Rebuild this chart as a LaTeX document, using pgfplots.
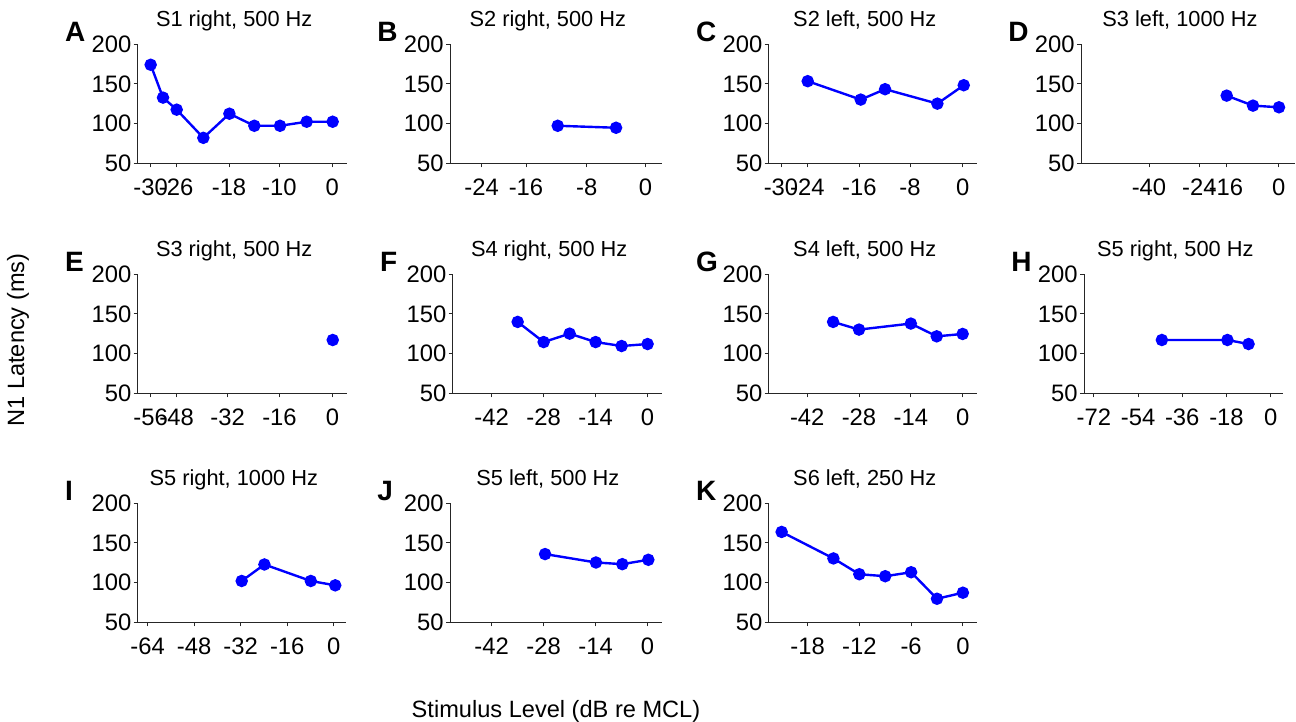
\documentclass[border=0pt]{standalone}
\usepackage{fontspec}
\setmainfont{Liberation Sans}
\usepackage{pgfplots}
\pgfplotsset{compat=1.18}

\definecolor{dotblue}{RGB}{0,0,255}

\pgfplotsset{
  panel/.style={
    scale only axis,
    height=59.5pt,
    anchor=south west,
    axis lines=left,
    axis line style={black!85, line width=0.5pt, -},
    ymin=50, ymax=200,
    ytick={50,100,150,200},
    yticklabels={50,100,150,200},
    tick align=outside,
    major tick length=2pt,
    tick style={black!85, line width=0.5pt},
    every tick label/.append style={inner sep=1pt, font=\fontsize{11.9}{13}\selectfont},
    xticklabel style={yshift=-4.5pt},
    title style={at={(0.5,1)}, anchor=base, yshift=3pt, xshift=-4pt,
                 font=\fontsize{10.9}{12}\selectfont},
    clip=false,
  },
  dat/.style={dotblue, line width=1.2pt, mark=*, mark size=2.5pt,
              mark options={solid, fill=dotblue, draw=dotblue}},
}
% panel letter
\newcommand{\plet}[1]{\node[anchor=west, inner sep=0pt, font=\fontsize{14}{15}\selectfont\bfseries]
  at (rel axis cs:0,1) [xshift=-36.5pt, yshift=6pt] {#1};}

% data (x positions read on each panel's own scale)
\pgfplotstableread{
x y
-30.00 174.2
-27.96 132.8
-25.70 117.6
-21.30 82.1
-17.00 112.5
-12.88 97.3
-8.64 97.3
-4.24 102.4
0.05 102.4
}\tA
\pgfplotstableread{
x y
-12.85 97.3
-4.30 94.8
}\tB
\pgfplotstableread{
x y
-25.59 153.5
-16.84 130.3
-12.82 143.4
-4.18 125.2
0.17 148.4
}\tC
\pgfplotstableread{
x y
-16.04 135.3
-7.92 122.7
0.10 120.6
}\tD
\pgfplotstableread{
x y
0.10 117.2
}\tE
\pgfplotstableread{
x y
-35 140.0
-28 114.6
-21 125.2
-14 114.6
-7 109.6
0 112.1
}\tF
\pgfplotstableread{
x y
-35 140.0
-28 130.3
-14 137.9
-7 121.8
0 124.8
}\tG
\pgfplotstableread{
x y
-44.3 117.2
-17.6 117.2
-9.0 112.1
}\tH
\pgfplotstableread{
x y
-31.65 102.1
-23.85 122.9
-7.90 102.1
0.50 96.6
}\tI
\pgfplotstableread{
x y
-27.6 136.0
-13.9 125.4
-6.8 123.3
0.2 128.8
}\tJ
\pgfplotstableread{
x y
-21 163.9
-15 130.5
-12 110.6
-9 108.1
-6 113.1
-3 79.7
0 87.3
}\tK

\begin{document}
\begin{tikzpicture}
\path[use as bounding box] (0,0) rectangle (648pt,-361pt);

% row 1
\begin{axis}[panel, at={(68.85pt,-81.65pt)}, width=104.5pt,
  xmin=-32.14, xmax=2.37, xtick={-30,-25.8,-17.06,-8.75,0},
  xticklabels={-30,-26,-18,-10,0}, title={S1 right, 500 Hz}]
  \addplot[dat] table {\tA};
  \plet{A}
\end{axis}
\begin{axis}[panel, at={(225pt,-81.65pt)}, width=105.85pt,
  xmin=-28.64, xmax=2.39, xtick={-24,-17.5,-8.6,0},
  xticklabels={-24,-16,-8,0}, title={S2 right, 500 Hz}]
  \addplot[dat] table {\tB};
  \plet{B}
\end{axis}
\begin{axis}[panel, at={(384.35pt,-81.65pt)}, width=104pt,
  xmin=-32.03, xmax=2.31, xtick={-30,-25.65,-17.06,-8.7,0},
  xticklabels={-30,-24,-16,-8,0}, title={S2 left, 500 Hz}]
  \addplot[dat] table {\tC};
  \plet{C}
\end{axis}
\begin{axis}[panel, at={(540.5pt,-81.65pt)}, width=107pt,
  xmin=-60.98, xmax=5.04, xtick={-40,-24.47,-16.25,0},
  xticklabels={-40,-24,-16,0}, title={S3 left, 1000 Hz}]
  \addplot[dat] table {\tD};
  \plet{D}
\end{axis}

% row 2
\begin{axis}[panel, at={(68.85pt,-196.65pt)}, width=104.5pt,
  xmin=-60.0, xmax=4.4, xtick={-56,-48,-32.3,-16.3,0},
  xticklabels={-56,-48,-32,-16,0}, title={S3 right, 500 Hz}]
  \addplot[dat, only marks] table {\tE};
  \plet{E}
\end{axis}
\begin{axis}[panel, at={(226.35pt,-196.65pt)}, width=104.5pt,
  xmin=-52.5, xmax=3.8, xtick={-42,-28,-14,0},
  xticklabels={-42,-28,-14,0}, title={S4 right, 500 Hz}]
  \addplot[dat] table {\tF};
  \plet{F}
\end{axis}
\begin{axis}[panel, at={(384.35pt,-196.65pt)}, width=104pt,
  xmin=-52.4, xmax=3.8, xtick={-42,-28,-14,0},
  xticklabels={-42,-28,-14,0}, title={S4 left, 500 Hz}]
  \addplot[dat] table {\tG};
  \plet{G}
\end{axis}
\begin{axis}[panel, at={(542pt,-196.65pt)}, width=99.35pt,
  xmin=-76, xmax=4.9, xtick={-72,-54,-36,-18,0},
  xticklabels={-72,-54,-36,-18,0}, title={S5 right, 500 Hz}]
  \addplot[dat] table {\tH};
  \plet{H}
\end{axis}

% row 3
\begin{axis}[panel, at={(68.85pt,-311.15pt)}, width=104.15pt,
  xmin=-67.4, xmax=4.2, xtick={-64,-48,-32,-16,0},
  xticklabels={-64,-48,-32,-16,0}, title={S5 right, 1000 Hz}]
  \addplot[dat] table {\tI};
  \plet{I}
\end{axis}
\begin{axis}[panel, at={(225pt,-311.15pt)}, width=105.85pt,
  xmin=-53.2, xmax=3.8, xtick={-42,-28,-14,0},
  xticklabels={-42,-28,-14,0}, title={S5 left, 500 Hz}]
  \addplot[dat] table {\tJ};
  \plet{J}
\end{axis}
\begin{axis}[panel, at={(384.35pt,-311.15pt)}, width=104pt,
  xmin=-22.5, xmax=1.6, xtick={-18,-12,-6,0},
  xticklabels={-18,-12,-6,0}, title={S6 left, 250 Hz}]
  \addplot[dat] table {\tK};
  \plet{K}
\end{axis}

% shared axis labels
\node[rotate=90, font=\fontsize{11.8}{13}\selectfont] at (9pt,-170pt) {N1 Latency (ms)};
\node[anchor=base, font=\fontsize{11.8}{13}\selectfont] at (278pt,-358.5pt) {Stimulus Level (dB re MCL)};
\end{tikzpicture}
\end{document}
